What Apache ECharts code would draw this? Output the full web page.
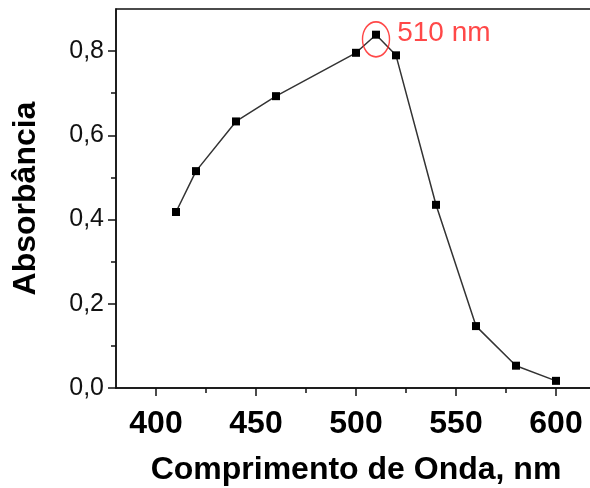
<!DOCTYPE html>
<html>
<head>
<meta charset="utf-8">
<script src="https://cdn.jsdelivr.net/npm/echarts@6/dist/echarts.min.js"></script>
<style>
  html, body { margin: 0; padding: 0; background: #fff; }
  #chart { width: 590px; height: 488px; }
</style>
</head>
<body>
<div id="chart"></div>
<script>
// dados
const wavelengths = [410, 420, 440, 460, 500, 510, 520, 540, 560, 580, 600]
const absorbance = [0.418, 0.515, 0.633, 0.693, 0.796, 0.839, 0.790, 0.435, 0.147, 0.053, 0.017]
const xMajorTicks = [400, 450, 500, 550, 600]
const xMinorTicks = [425, 475, 525, 575]
const yMajorTicks = [0, 0.2, 0.4, 0.6, 0.8]
const yMinorTicks = [0.1, 0.3, 0.5, 0.7]
const peakWavelength = 510
const peakMarkerValue = 0.828
const peakLabel = '510 nm'

const font = "'Liberation Sans', Arial, sans-serif"
const chart = echarts.init(document.getElementById('chart'))

const baseX = {
  type: 'value',
  min: 380,
  max: 620,
  splitLine: { show: false }
}
const baseY = {
  type: 'value',
  min: 0,
  max: 0.9,
  splitLine: { show: false }
}

chart.setOption({
  animation: false,
  backgroundColor: '#fff',
  grid: {
    left: 116, top: 9, width: 480, bottom: 100,
    outerBoundsMode: 'none',
    containLabel: false,
    show: true, borderColor: '#111', borderWidth: 1.5, backgroundColor: 'transparent'
  },
  xAxis: [
    Object.assign({}, baseX, {
      name: 'Comprimento de Onda, nm',
      nameLocation: 'middle',
      nameGap: 66,
      nameTextStyle: { fontFamily: font, fontSize: 32, fontWeight: 'bold', color: '#000' },
      axisLine: { show: true, onZero: false, lineStyle: { color: '#111', width: 1.5 } },
      axisTick: { show: true, inside: false, length: 8, customValues: xMajorTicks, lineStyle: { color: '#111', width: 1.5 } },
      axisLabel: {
        customValues: xMajorTicks, margin: 20,
        fontFamily: font, fontSize: 32, fontWeight: 'bold', color: '#000'
      }
    }),
    Object.assign({}, baseX, {
      position: 'bottom',
      axisLine: { show: false },
      axisTick: { show: true, inside: false, length: 5, customValues: xMinorTicks, lineStyle: { color: '#111', width: 1.5 } },
      axisLabel: { show: false }
    })
  ],
  yAxis: [
    Object.assign({}, baseY, {
      name: 'Absorbância',
      nameLocation: 'middle',
      nameRotate: 90,
      nameGap: 74,
      nameTextStyle: { fontFamily: font, fontSize: 32, fontWeight: 'bold', color: '#000' },
      axisLine: { show: true, onZero: false, lineStyle: { color: '#111', width: 1.5 } },
      axisTick: { show: true, inside: false, length: 8, customValues: yMajorTicks, lineStyle: { color: '#111', width: 1.5 } },
      axisLabel: {
        customValues: yMajorTicks, margin: 12,
        fontFamily: font, fontSize: 25, color: '#111',
        formatter: v => v.toFixed(1).replace('.', ',')
      }
    }),
    Object.assign({}, baseY, {
      position: 'left',
      axisLine: { show: false },
      axisTick: { show: true, inside: false, length: 5, customValues: yMinorTicks, lineStyle: { color: '#111', width: 1.5 } },
      axisLabel: { show: false }
    })
  ],
  series: [
    {
      type: 'line',
      xAxisIndex: 0,
      yAxisIndex: 0,
      data: wavelengths.map((w, i) => [w, absorbance[i]]),
      symbol: 'rect',
      symbolSize: 8,
      itemStyle: { color: '#000' },
      lineStyle: { color: '#333', width: 1.5 },
      z: 3
    },
    {
      type: 'scatter',
      xAxisIndex: 0,
      yAxisIndex: 0,
      data: [[peakWavelength, peakMarkerValue]],
      symbol: 'circle',
      symbolSize: [27, 35],
      itemStyle: { color: 'rgba(0,0,0,0)', borderColor: '#ff1a1a', borderWidth: 1.6 },
      label: {
        show: true,
        position: 'right',
        distance: 7,
        offset: [0, -6],
        formatter: peakLabel,
        fontFamily: "'Liberation Sans Narrow', 'Arial Narrow', " + font,
        fontSize: 28,
        color: '#ff1a1a'
      },
      z: 4
    }
  ]
})
</script>
</body>
</html>
